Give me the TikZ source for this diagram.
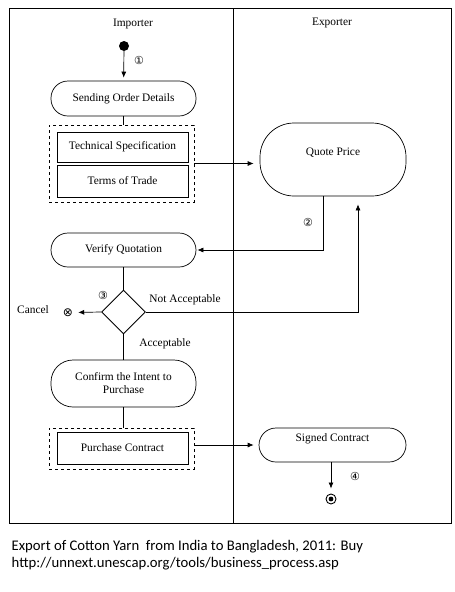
\documentclass[tikz,border=0pt]{standalone}
\usepackage{fontspec}
\setmainfont{Liberation Serif}
\newfontfamily\symfont{DejaVu Sans}
\newfontfamily\capfont{Carlito}
\usetikzlibrary{arrows.meta,shapes.geometric}
\begin{document}
\begin{tikzpicture}[x=1pt,y=-1pt,
  every node/.style={font=\fontsize{11.4}{13}\selectfont},
  act/.style={draw,line width=0.7pt,rounded corners=17pt,minimum width=145pt,minimum height=35pt,inner sep=0pt,align=center},
  doc/.style={draw,line width=0.9pt,minimum width=131pt,inner sep=0pt},
  grp/.style={draw,dashed,line width=0.9pt,minimum width=145pt,inner sep=0pt},
  flow/.style={line width=0.7pt,-{Latex[length=6pt,width=5pt]}},
  link/.style={line width=0.9pt},
  num/.style={font=\symfont\fontsize{11}{12}\selectfont,inner sep=0pt}]
\useasboundingbox (0,0) rectangle (455,592);
% swimlanes
\draw[line width=1pt] (9.5,8) rectangle (451.5,523);
\draw[line width=1pt] (233,8) -- (233,523);
\node (imp) at (133,24) {Importer};
\node (exp) at (332,23) {Exporter};
% start
\node[circle,fill=black,minimum size=10pt,inner sep=0pt] (start) at (124,46) {};
\node[num] (n1) at (139,60) {①};
\node[act] (sod) at (123.5,98.5) {Sending Order Details};
\draw[flow,shorten >=3pt] (start) -- (sod);
% group 1
\node[grp,minimum height=77pt] (db1) at (121.5,163.5) {};
\node[doc,minimum height=30pt] (ts) at (122.5,147) {Technical Specification};
\node[doc,minimum height=32pt] (tt) at (122.5,181) {Terms of Trade};
\draw[link] (sod.south) -- (sod.south |- db1.north);
% quote price
\node[act,minimum width=146pt,minimum height=73pt,rounded corners=34pt] (qp) at (333,159.5) {Quote Price\\[3pt]};
\draw[flow,shorten >=6pt] (db1.east) -- (db1.east -| qp.west);
% verify
\node[act,minimum height=34pt] (vq) at (123.5,250) {Verify Quotation};
\node[num] (n2) at (308,222) {②};
\draw[flow,shorten >=1pt] ([xshift=-10pt]qp.south) |- (vq.east);
% decision
\node[diamond,draw,line width=0.9pt,minimum width=44pt,minimum height=44pt,inner sep=0pt] (dia) at (123.5,312) {};
\draw[link] (vq.south) -- (dia.north);
\node[num] (n3) at (103,295) {③};
\node[num,font=\symfont\fontsize{12}{13}\selectfont] (cx) at (68,312.5) {⊗};
\node (cancel) at (33,310) {Cancel};
\draw[flow,shorten >=5pt] (dia.west) -- (cx.east);
\node (na) at (185,300) {Not Acceptable};
\draw[flow,shorten >=8pt] (dia.east) -| ([xshift=25pt]qp.south);
\node (acc) at (165,344) {Acceptable};
% confirm
\node[act,minimum height=47pt,rounded corners=22pt] (cf) at (123.5,383.5) {Confirm the Intent to\\Purchase};
\draw[link] (dia.south) -- (cf.north);
% group 2
\node[grp,minimum height=41pt] (db2) at (121.5,448.5) {};
\node[doc,minimum height=32pt] (pc) at (122.5,448) {Purchase Contract};
\draw[link] (cf.south) -- (cf.south |- db2.north);
% signed contract
\node[act,minimum width=147pt,minimum height=34pt] (sc) at (332.5,445) {Signed Contract\\[2pt]};
\draw[flow,shorten >=5pt] (db2.east |- sc.west) -- (sc.west);
% end
\node[circle,draw,line width=0.9pt,minimum size=10pt,inner sep=0pt] (end) at (331,499) {};
\fill (end.center) circle (2.4pt);
\node[num] (n4) at (355,476) {④};
\draw[flow,shorten >=5pt] ([xshift=-1.5pt]sc.south) -- (end.north);
% caption
\node[anchor=north west,align=left,inner sep=0pt,font=\capfont\fontsize{14.7}{17}\selectfont] (cap) at (11.5,540) {Export of Cotton Yarn\ \ from India to Bangladesh, 2011: Buy\\http://unnext.unescap.org/tools/business\_process.asp};
\end{tikzpicture}
\end{document}
